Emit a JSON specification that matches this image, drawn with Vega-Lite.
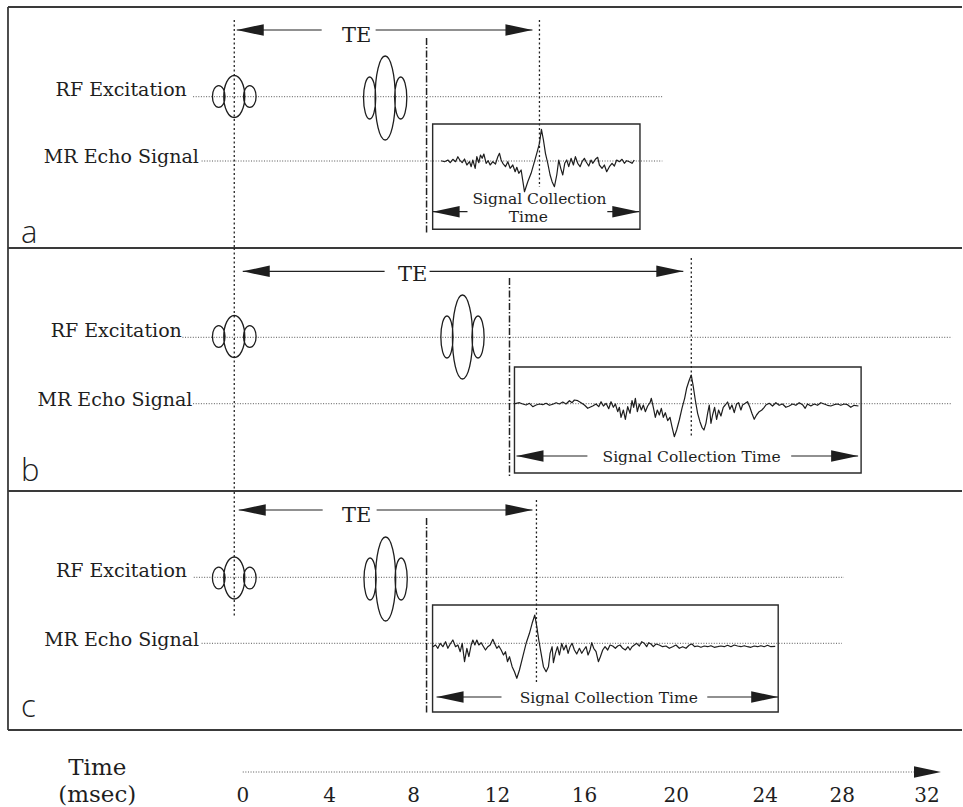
{
  "$schema": "https://vega.github.io/schema/vega-lite/v6.json",
  "width": 963,
  "height": 807,
  "autosize": {"type": "fit", "contains": "padding"},
  "padding": 0,
  "background": "#ffffff",
  "config": {"view": {"stroke": null}, "font": "DejaVu Serif"},
  "datasets": {
    "segs": [
      {"kind": "border", "x": -10.39, "x2": 33.417, "y": 7, "y2": 7},
      {"kind": "border", "x": -10.39, "x2": 33.417, "y": 248, "y2": 248},
      {"kind": "border", "x": -10.39, "x2": 33.417, "y": 491, "y2": 491},
      {"kind": "border", "x": -10.39, "x2": 33.417, "y": 730, "y2": 730},
      {"kind": "border", "x": -10.39, "x2": -10.39, "y": 7, "y2": 730},
      {"kind": "base", "x": -1.89, "x2": 19.656, "y": 96.7, "y2": 96.7},
      {"kind": "base", "x": -1.5, "x2": 19.656, "y": 161, "y2": 161},
      {"kind": "base", "x": -2.38, "x2": 32.96, "y": 337.3, "y2": 337.3},
      {"kind": "base", "x": -1.89, "x2": 32.96, "y": 403.7, "y2": 403.7},
      {"kind": "base", "x": -1.86, "x2": 28.0, "y": 577.3, "y2": 577.3},
      {"kind": "base", "x": -1.5, "x2": 27.9, "y": 643.3, "y2": 643.3},
      {"kind": "base", "x": 0.39, "x2": 31.5, "y": 772, "y2": 772},
      {"kind": "mark", "x": 0, "x2": 0, "y": 20, "y2": 248},
      {"kind": "mark", "x": 0, "x2": 0, "y": 248, "y2": 491},
      {"kind": "mark", "x": 0, "x2": 0, "y": 492, "y2": 617},
      {"kind": "mark", "x": 14.014, "x2": 14.014, "y": 20, "y2": 187},
      {"kind": "mark", "x": 20.986, "x2": 20.986, "y": 258, "y2": 438},
      {"kind": "mark", "x": 13.876, "x2": 13.876, "y": 500, "y2": 683},
      {"kind": "readout", "x": 8.83, "x2": 8.83, "y": 38, "y2": 233},
      {"kind": "readout", "x": 12.638, "x2": 12.638, "y": 278, "y2": 478},
      {"kind": "readout", "x": 8.83, "x2": 8.83, "y": 518, "y2": 713},
      {"kind": "arrow", "x": 0.115, "x2": 4.014, "y": 30, "y2": 30},
      {"kind": "arrow", "x": 6.491, "x2": 13.693, "y": 30, "y2": 30},
      {"kind": "arrow", "x": 0.39, "x2": 6.904, "y": 271.3, "y2": 271.3},
      {"kind": "arrow", "x": 8.968, "x2": 20.619, "y": 271.3, "y2": 271.3},
      {"kind": "arrow", "x": 0.206, "x2": 4.06, "y": 510, "y2": 510},
      {"kind": "arrow", "x": 6.537, "x2": 13.693, "y": 510, "y2": 510},
      {"kind": "arrow", "x": 9.11, "x2": 10.71, "y": 211.7, "y2": 211.7},
      {"kind": "arrow", "x": 17.13, "x2": 18.6, "y": 211.7, "y2": 211.7},
      {"kind": "arrow", "x": 12.959, "x2": 16.216, "y": 456, "y2": 456},
      {"kind": "arrow", "x": 25.573, "x2": 28.647, "y": 456, "y2": 456},
      {"kind": "arrow", "x": 9.289, "x2": 12.271, "y": 697, "y2": 697},
      {"kind": "arrow", "x": 21.72, "x2": 24.977, "y": 697, "y2": 697}
    ],
    "heads": [
      {"dir": "left", "x": 0.115, "y": 30},
      {"dir": "left", "x": 0.39, "y": 271.3},
      {"dir": "left", "x": 0.206, "y": 510},
      {"dir": "left", "x": 9.11, "y": 211.7},
      {"dir": "left", "x": 12.959, "y": 456},
      {"dir": "left", "x": 9.289, "y": 697},
      {"dir": "right", "x": 13.693, "y": 30},
      {"dir": "right", "x": 20.619, "y": 271.3},
      {"dir": "right", "x": 13.693, "y": 510},
      {"dir": "right", "x": 18.6, "y": 211.7},
      {"dir": "right", "x": 28.647, "y": 456},
      {"dir": "right", "x": 24.977, "y": 697},
      {"dir": "right", "x": 32.454, "y": 772}
    ],
    "boxes": [
      {"panel": "a", "x": 9.11, "x2": 18.63, "y": 124, "y2": 229.3},
      {"panel": "b", "x": 12.867, "x2": 28.784, "y": 367, "y2": 473},
      {"panel": "c", "x": 9.106, "x2": 24.977, "y": 605, "y2": 712}
    ],
    "pulses": [
      {"panel": "a", "type": "90", "x": 0, "y": 96.5},
      {"panel": "a", "type": "180", "x": 6.93, "y": 98},
      {"panel": "b", "type": "90", "x": 0, "y": 336.5},
      {"panel": "b", "type": "180", "x": 10.48, "y": 337},
      {"panel": "c", "type": "90", "x": 0, "y": 578},
      {"panel": "c", "type": "180", "x": 6.95, "y": 579}
    ],
    "texts": [
      {"kind": "label", "label": "RF Excitation", "x": -2.179, "y": 96.2},
      {"kind": "label", "label": "MR Echo Signal", "x": -1.628, "y": 162.5},
      {"kind": "label", "label": "RF Excitation", "x": -2.408, "y": 337.2},
      {"kind": "label", "label": "MR Echo Signal", "x": -1.92, "y": 406},
      {"kind": "label", "label": "RF Excitation", "x": -2.165, "y": 576.7},
      {"kind": "label", "label": "MR Echo Signal", "x": -1.615, "y": 645.5},
      {"kind": "te", "label": "TE", "x": 5.619, "y": 41.5},
      {"kind": "te", "label": "TE", "x": 8.188, "y": 281},
      {"kind": "te", "label": "TE", "x": 5.619, "y": 521.5},
      {"kind": "panel", "label": "a", "x": -9.794, "y": 243},
      {"kind": "panel", "label": "b", "x": -9.794, "y": 481},
      {"kind": "panel", "label": "c", "x": -9.794, "y": 717},
      {"kind": "sc", "label": "Signal Collection", "x": 14.014, "y": 204.3},
      {"kind": "sc", "label": "Time", "x": 13.5, "y": 222},
      {"kind": "sc", "label": "Signal Collection Time", "x": 21.0, "y": 461.7},
      {"kind": "sc", "label": "Signal Collection Time", "x": 17.2, "y": 702.7},
      {"kind": "tick", "label": "0", "x": 0.39, "y": 802},
      {"kind": "tick", "label": "4", "x": 4.381, "y": 802},
      {"kind": "tick", "label": "8", "x": 8.234, "y": 802},
      {"kind": "tick", "label": "12", "x": 12.087, "y": 802},
      {"kind": "tick", "label": "16", "x": 16.078, "y": 802},
      {"kind": "tick", "label": "20", "x": 20.298, "y": 802},
      {"kind": "tick", "label": "24", "x": 24.381, "y": 802},
      {"kind": "tick", "label": "28", "x": 27.913, "y": 802},
      {"kind": "tick", "label": "32", "x": 31.812, "y": 802},
      {"kind": "axtitle", "label": "Time", "x": -6.29, "y": 775},
      {"kind": "axtitle", "label": "(msec)", "x": -6.29, "y": 801.5}
    ],
    "signals": [
      {"panel": "a", "x": 9.503, "y": 160.7}, {"panel": "a", "x": 9.656, "y": 161.7}, {"panel": "a", "x": 9.809, "y": 160.0}, {"panel": "a", "x": 9.916, "y": 162.7},
      {"panel": "a", "x": 10.038, "y": 159.3}, {"panel": "a", "x": 10.16, "y": 161.7}, {"panel": "a", "x": 10.267, "y": 156.7}, {"panel": "a", "x": 10.374, "y": 160.7},
      {"panel": "a", "x": 10.466, "y": 162.7}, {"panel": "a", "x": 10.573, "y": 159.0}, {"panel": "a", "x": 10.68, "y": 165.0}, {"panel": "a", "x": 10.803, "y": 161.7},
      {"panel": "a", "x": 10.879, "y": 166.7}, {"panel": "a", "x": 10.955, "y": 160.0}, {"panel": "a", "x": 11.062, "y": 168.3}, {"panel": "a", "x": 11.139, "y": 156.7},
      {"panel": "a", "x": 11.231, "y": 162.7}, {"panel": "a", "x": 11.307, "y": 155.0}, {"panel": "a", "x": 11.384, "y": 158.3}, {"panel": "a", "x": 11.46, "y": 154.0},
      {"panel": "a", "x": 11.567, "y": 163.3}, {"panel": "a", "x": 11.659, "y": 160.7}, {"panel": "a", "x": 11.75, "y": 165.0}, {"panel": "a", "x": 11.873, "y": 161.7},
      {"panel": "a", "x": 11.995, "y": 164.0}, {"panel": "a", "x": 12.102, "y": 156.7}, {"panel": "a", "x": 12.179, "y": 153.3}, {"panel": "a", "x": 12.255, "y": 160.0},
      {"panel": "a", "x": 12.332, "y": 163.3}, {"panel": "a", "x": 12.454, "y": 166.7}, {"panel": "a", "x": 12.561, "y": 161.7}, {"panel": "a", "x": 12.668, "y": 168.3},
      {"panel": "a", "x": 12.79, "y": 165.0}, {"panel": "a", "x": 12.897, "y": 171.7}, {"panel": "a", "x": 12.974, "y": 167.3}, {"panel": "a", "x": 13.066, "y": 173.3},
      {"panel": "a", "x": 13.173, "y": 170.0}, {"panel": "a", "x": 13.326, "y": 191.7}, {"panel": "a", "x": 13.478, "y": 181.7}, {"panel": "a", "x": 13.631, "y": 173.3},
      {"panel": "a", "x": 13.784, "y": 161.7}, {"panel": "a", "x": 13.891, "y": 153.3}, {"panel": "a", "x": 14.013, "y": 143.3}, {"panel": "a", "x": 14.105, "y": 129.3},
      {"panel": "a", "x": 14.197, "y": 140.0}, {"panel": "a", "x": 14.289, "y": 153.3}, {"panel": "a", "x": 14.396, "y": 163.3}, {"panel": "a", "x": 14.503, "y": 175.0},
      {"panel": "a", "x": 14.595, "y": 181.7}, {"panel": "a", "x": 14.702, "y": 186.7}, {"panel": "a", "x": 14.809, "y": 175.0}, {"panel": "a", "x": 14.9, "y": 160.0},
      {"panel": "a", "x": 14.992, "y": 168.3}, {"panel": "a", "x": 15.084, "y": 175.0}, {"panel": "a", "x": 15.176, "y": 163.3}, {"panel": "a", "x": 15.267, "y": 160.0},
      {"panel": "a", "x": 15.359, "y": 166.7}, {"panel": "a", "x": 15.466, "y": 158.3}, {"panel": "a", "x": 15.573, "y": 165.0}, {"panel": "a", "x": 15.665, "y": 156.7},
      {"panel": "a", "x": 15.772, "y": 163.3}, {"panel": "a", "x": 15.879, "y": 166.7}, {"panel": "a", "x": 15.971, "y": 161.7}, {"panel": "a", "x": 16.078, "y": 158.3},
      {"panel": "a", "x": 16.154, "y": 161.7}, {"panel": "a", "x": 16.277, "y": 166.0}, {"panel": "a", "x": 16.384, "y": 160.0}, {"panel": "a", "x": 16.46, "y": 163.3},
      {"panel": "a", "x": 16.582, "y": 159.3}, {"panel": "a", "x": 16.689, "y": 157.3}, {"panel": "a", "x": 16.766, "y": 165.0}, {"panel": "a", "x": 16.888, "y": 168.3},
      {"panel": "a", "x": 16.995, "y": 165.0}, {"panel": "a", "x": 17.102, "y": 171.7}, {"panel": "a", "x": 17.225, "y": 166.7}, {"panel": "a", "x": 17.347, "y": 163.3},
      {"panel": "a", "x": 17.454, "y": 166.0}, {"panel": "a", "x": 17.561, "y": 160.0}, {"panel": "a", "x": 17.683, "y": 161.7}, {"panel": "a", "x": 17.806, "y": 159.3},
      {"panel": "a", "x": 17.913, "y": 163.3}, {"panel": "a", "x": 18.02, "y": 160.7}, {"panel": "a", "x": 18.142, "y": 161.7}, {"panel": "a", "x": 18.264, "y": 163.3},
      {"panel": "a", "x": 18.371, "y": 160.0},

      {"panel": "b", "x": 12.867, "y": 404.0}, {"panel": "b", "x": 12.944, "y": 403.3}, {"panel": "b", "x": 13.097, "y": 402.7}, {"panel": "b", "x": 13.25, "y": 404.0},
      {"panel": "b", "x": 13.402, "y": 405.0}, {"panel": "b", "x": 13.555, "y": 403.3}, {"panel": "b", "x": 13.708, "y": 406.7}, {"panel": "b", "x": 13.861, "y": 405.0},
      {"panel": "b", "x": 14.014, "y": 404.0}, {"panel": "b", "x": 14.167, "y": 404.7}, {"panel": "b", "x": 14.32, "y": 403.3}, {"panel": "b", "x": 14.473, "y": 405.3},
      {"panel": "b", "x": 14.626, "y": 404.3}, {"panel": "b", "x": 14.778, "y": 402.7}, {"panel": "b", "x": 14.931, "y": 404.0}, {"panel": "b", "x": 15.084, "y": 402.0},
      {"panel": "b", "x": 15.237, "y": 404.0}, {"panel": "b", "x": 15.39, "y": 400.7}, {"panel": "b", "x": 15.512, "y": 402.7}, {"panel": "b", "x": 15.619, "y": 400.0},
      {"panel": "b", "x": 15.772, "y": 400.7}, {"panel": "b", "x": 15.925, "y": 402.7}, {"panel": "b", "x": 16.078, "y": 405.0}, {"panel": "b", "x": 16.231, "y": 408.3},
      {"panel": "b", "x": 16.46, "y": 406.0}, {"panel": "b", "x": 16.613, "y": 404.0}, {"panel": "b", "x": 16.736, "y": 406.7}, {"panel": "b", "x": 16.843, "y": 401.7},
      {"panel": "b", "x": 16.95, "y": 406.0}, {"panel": "b", "x": 17.072, "y": 403.3}, {"panel": "b", "x": 17.195, "y": 408.7}, {"panel": "b", "x": 17.301, "y": 401.7},
      {"panel": "b", "x": 17.408, "y": 407.3}, {"panel": "b", "x": 17.5, "y": 404.0}, {"panel": "b", "x": 17.607, "y": 411.7}, {"panel": "b", "x": 17.684, "y": 407.3},
      {"panel": "b", "x": 17.76, "y": 417.3}, {"panel": "b", "x": 17.867, "y": 410.0}, {"panel": "b", "x": 17.959, "y": 419.3}, {"panel": "b", "x": 18.066, "y": 406.7},
      {"panel": "b", "x": 18.173, "y": 413.3}, {"panel": "b", "x": 18.265, "y": 400.7}, {"panel": "b", "x": 18.341, "y": 407.3}, {"panel": "b", "x": 18.418, "y": 398.3},
      {"panel": "b", "x": 18.51, "y": 411.7}, {"panel": "b", "x": 18.601, "y": 404.0}, {"panel": "b", "x": 18.693, "y": 410.0}, {"panel": "b", "x": 18.785, "y": 405.0},
      {"panel": "b", "x": 18.876, "y": 411.7}, {"panel": "b", "x": 18.983, "y": 406.0}, {"panel": "b", "x": 19.09, "y": 402.7}, {"panel": "b", "x": 19.152, "y": 398.3},
      {"panel": "b", "x": 19.243, "y": 407.3}, {"panel": "b", "x": 19.335, "y": 417.3}, {"panel": "b", "x": 19.427, "y": 410.0}, {"panel": "b", "x": 19.519, "y": 415.0},
      {"panel": "b", "x": 19.61, "y": 408.3}, {"panel": "b", "x": 19.702, "y": 417.3}, {"panel": "b", "x": 19.794, "y": 412.7}, {"panel": "b", "x": 19.901, "y": 420.7},
      {"panel": "b", "x": 20.008, "y": 417.3}, {"panel": "b", "x": 20.099, "y": 426.7}, {"panel": "b", "x": 20.207, "y": 436.7}, {"panel": "b", "x": 20.314, "y": 430.0},
      {"panel": "b", "x": 20.436, "y": 420.0}, {"panel": "b", "x": 20.558, "y": 408.3}, {"panel": "b", "x": 20.681, "y": 398.3}, {"panel": "b", "x": 20.772, "y": 388.3},
      {"panel": "b", "x": 20.895, "y": 380.0}, {"panel": "b", "x": 20.986, "y": 375.0}, {"panel": "b", "x": 21.078, "y": 386.7}, {"panel": "b", "x": 21.17, "y": 400.0},
      {"panel": "b", "x": 21.277, "y": 413.3}, {"panel": "b", "x": 21.384, "y": 421.7}, {"panel": "b", "x": 21.476, "y": 427.3}, {"panel": "b", "x": 21.567, "y": 430.0},
      {"panel": "b", "x": 21.659, "y": 423.3}, {"panel": "b", "x": 21.736, "y": 413.3}, {"panel": "b", "x": 21.812, "y": 405.0}, {"panel": "b", "x": 21.889, "y": 423.3},
      {"panel": "b", "x": 21.965, "y": 415.0}, {"panel": "b", "x": 22.057, "y": 407.3}, {"panel": "b", "x": 22.149, "y": 419.3}, {"panel": "b", "x": 22.24, "y": 410.0},
      {"panel": "b", "x": 22.347, "y": 416.0}, {"panel": "b", "x": 22.454, "y": 407.3}, {"panel": "b", "x": 22.546, "y": 405.0}, {"panel": "b", "x": 22.653, "y": 402.0},
      {"panel": "b", "x": 22.76, "y": 409.3}, {"panel": "b", "x": 22.852, "y": 405.0}, {"panel": "b", "x": 22.959, "y": 412.7}, {"panel": "b", "x": 23.066, "y": 404.0},
      {"panel": "b", "x": 23.157, "y": 402.7}, {"panel": "b", "x": 23.265, "y": 410.0}, {"panel": "b", "x": 23.341, "y": 405.0}, {"panel": "b", "x": 23.464, "y": 403.3},
      {"panel": "b", "x": 23.571, "y": 401.7}, {"panel": "b", "x": 23.677, "y": 407.3}, {"panel": "b", "x": 23.769, "y": 413.3}, {"panel": "b", "x": 23.876, "y": 419.3},
      {"panel": "b", "x": 23.983, "y": 415.0}, {"panel": "b", "x": 24.105, "y": 411.7}, {"panel": "b", "x": 24.228, "y": 410.0}, {"panel": "b", "x": 24.335, "y": 407.3},
      {"panel": "b", "x": 24.411, "y": 405.0}, {"panel": "b", "x": 24.564, "y": 403.3}, {"panel": "b", "x": 24.717, "y": 406.0}, {"panel": "b", "x": 24.87, "y": 402.7},
      {"panel": "b", "x": 25.023, "y": 405.3}, {"panel": "b", "x": 25.176, "y": 404.0}, {"panel": "b", "x": 25.329, "y": 407.3}, {"panel": "b", "x": 25.482, "y": 406.0},
      {"panel": "b", "x": 25.635, "y": 404.0}, {"panel": "b", "x": 25.788, "y": 405.3}, {"panel": "b", "x": 25.941, "y": 402.7}, {"panel": "b", "x": 26.094, "y": 404.7},
      {"panel": "b", "x": 26.216, "y": 408.3}, {"panel": "b", "x": 26.323, "y": 404.0}, {"panel": "b", "x": 26.476, "y": 406.0}, {"panel": "b", "x": 26.629, "y": 404.0},
      {"panel": "b", "x": 26.782, "y": 405.3}, {"panel": "b", "x": 26.934, "y": 402.7}, {"panel": "b", "x": 27.087, "y": 404.0}, {"panel": "b", "x": 27.24, "y": 405.3},
      {"panel": "b", "x": 27.393, "y": 406.0}, {"panel": "b", "x": 27.546, "y": 404.7}, {"panel": "b", "x": 27.699, "y": 404.0}, {"panel": "b", "x": 27.852, "y": 405.3},
      {"panel": "b", "x": 28.005, "y": 404.0}, {"panel": "b", "x": 28.158, "y": 404.7}, {"panel": "b", "x": 28.31, "y": 407.3}, {"panel": "b", "x": 28.463, "y": 405.3},
      {"panel": "b", "x": 28.662, "y": 406.0},

      {"panel": "c", "x": 9.121, "y": 646.7}, {"panel": "c", "x": 9.243, "y": 645.0}, {"panel": "c", "x": 9.35, "y": 648.3}, {"panel": "c", "x": 9.457, "y": 643.3},
      {"panel": "c", "x": 9.58, "y": 646.7}, {"panel": "c", "x": 9.702, "y": 641.7}, {"panel": "c", "x": 9.809, "y": 648.3}, {"panel": "c", "x": 9.916, "y": 644.0},
      {"panel": "c", "x": 10.038, "y": 640.0}, {"panel": "c", "x": 10.161, "y": 646.7}, {"panel": "c", "x": 10.268, "y": 645.0}, {"panel": "c", "x": 10.375, "y": 651.7},
      {"panel": "c", "x": 10.467, "y": 643.3}, {"panel": "c", "x": 10.574, "y": 661.7}, {"panel": "c", "x": 10.681, "y": 648.3}, {"panel": "c", "x": 10.772, "y": 656.7},
      {"panel": "c", "x": 10.879, "y": 645.0}, {"panel": "c", "x": 10.956, "y": 640.0}, {"panel": "c", "x": 11.048, "y": 645.0}, {"panel": "c", "x": 11.139, "y": 640.0},
      {"panel": "c", "x": 11.231, "y": 645.0}, {"panel": "c", "x": 11.338, "y": 642.7}, {"panel": "c", "x": 11.445, "y": 646.7}, {"panel": "c", "x": 11.537, "y": 650.0},
      {"panel": "c", "x": 11.644, "y": 646.7}, {"panel": "c", "x": 11.751, "y": 645.0}, {"panel": "c", "x": 11.873, "y": 639.3}, {"panel": "c", "x": 11.965, "y": 644.0},
      {"panel": "c", "x": 12.057, "y": 648.3}, {"panel": "c", "x": 12.149, "y": 646.0}, {"panel": "c", "x": 12.256, "y": 650.0}, {"panel": "c", "x": 12.363, "y": 655.0},
      {"panel": "c", "x": 12.454, "y": 651.7}, {"panel": "c", "x": 12.546, "y": 661.7}, {"panel": "c", "x": 12.638, "y": 656.7}, {"panel": "c", "x": 12.76, "y": 666.7},
      {"panel": "c", "x": 12.867, "y": 671.7}, {"panel": "c", "x": 12.974, "y": 678.3}, {"panel": "c", "x": 13.096, "y": 670.0}, {"panel": "c", "x": 13.249, "y": 656.7},
      {"panel": "c", "x": 13.402, "y": 643.3}, {"panel": "c", "x": 13.555, "y": 633.3}, {"panel": "c", "x": 13.678, "y": 623.3}, {"panel": "c", "x": 13.8, "y": 615.0},
      {"panel": "c", "x": 13.892, "y": 626.7}, {"panel": "c", "x": 13.983, "y": 640.0}, {"panel": "c", "x": 14.09, "y": 653.3}, {"panel": "c", "x": 14.197, "y": 666.7},
      {"panel": "c", "x": 14.32, "y": 671.7}, {"panel": "c", "x": 14.427, "y": 666.7}, {"panel": "c", "x": 14.503, "y": 653.3}, {"panel": "c", "x": 14.595, "y": 646.7},
      {"panel": "c", "x": 14.656, "y": 662.7}, {"panel": "c", "x": 14.748, "y": 653.3}, {"panel": "c", "x": 14.84, "y": 646.7}, {"panel": "c", "x": 14.931, "y": 655.0},
      {"panel": "c", "x": 15.038, "y": 643.3}, {"panel": "c", "x": 15.13, "y": 650.0}, {"panel": "c", "x": 15.237, "y": 645.0}, {"panel": "c", "x": 15.329, "y": 653.3},
      {"panel": "c", "x": 15.421, "y": 646.7}, {"panel": "c", "x": 15.512, "y": 643.3}, {"panel": "c", "x": 15.619, "y": 650.0}, {"panel": "c", "x": 15.726, "y": 654.0},
      {"panel": "c", "x": 15.849, "y": 648.3}, {"panel": "c", "x": 15.956, "y": 653.3}, {"panel": "c", "x": 16.048, "y": 650.0}, {"panel": "c", "x": 16.155, "y": 646.7},
      {"panel": "c", "x": 16.246, "y": 655.0}, {"panel": "c", "x": 16.338, "y": 650.0}, {"panel": "c", "x": 16.415, "y": 642.7}, {"panel": "c", "x": 16.506, "y": 648.3},
      {"panel": "c", "x": 16.613, "y": 651.7}, {"panel": "c", "x": 16.72, "y": 661.7}, {"panel": "c", "x": 16.812, "y": 656.7}, {"panel": "c", "x": 16.919, "y": 650.0},
      {"panel": "c", "x": 17.026, "y": 646.7}, {"panel": "c", "x": 17.148, "y": 650.0}, {"panel": "c", "x": 17.256, "y": 645.0}, {"panel": "c", "x": 17.378, "y": 646.0},
      {"panel": "c", "x": 17.5, "y": 648.3}, {"panel": "c", "x": 17.607, "y": 646.0}, {"panel": "c", "x": 17.714, "y": 645.0}, {"panel": "c", "x": 17.837, "y": 648.3},
      {"panel": "c", "x": 17.959, "y": 650.0}, {"panel": "c", "x": 18.081, "y": 646.7}, {"panel": "c", "x": 18.173, "y": 650.0}, {"panel": "c", "x": 18.265, "y": 646.7},
      {"panel": "c", "x": 18.372, "y": 645.0}, {"panel": "c", "x": 18.479, "y": 643.3}, {"panel": "c", "x": 18.601, "y": 646.0}, {"panel": "c", "x": 18.708, "y": 641.7},
      {"panel": "c", "x": 18.83, "y": 643.3}, {"panel": "c", "x": 18.937, "y": 646.7}, {"panel": "c", "x": 19.029, "y": 642.7}, {"panel": "c", "x": 19.136, "y": 644.0},
      {"panel": "c", "x": 19.243, "y": 646.7}, {"panel": "c", "x": 19.366, "y": 644.0}, {"panel": "c", "x": 19.518, "y": 645.0}, {"panel": "c", "x": 19.671, "y": 646.7},
      {"panel": "c", "x": 19.824, "y": 646.0}, {"panel": "c", "x": 19.977, "y": 648.3}, {"panel": "c", "x": 20.13, "y": 646.7}, {"panel": "c", "x": 20.283, "y": 645.0},
      {"panel": "c", "x": 20.436, "y": 648.3}, {"panel": "c", "x": 20.589, "y": 646.7}, {"panel": "c", "x": 20.742, "y": 648.3}, {"panel": "c", "x": 20.895, "y": 645.0},
      {"panel": "c", "x": 21.017, "y": 644.0}, {"panel": "c", "x": 21.139, "y": 646.7}, {"panel": "c", "x": 21.277, "y": 646.0}, {"panel": "c", "x": 21.43, "y": 647.3},
      {"panel": "c", "x": 21.583, "y": 646.0}, {"panel": "c", "x": 21.736, "y": 646.7}, {"panel": "c", "x": 21.889, "y": 645.7}, {"panel": "c", "x": 22.041, "y": 647.3},
      {"panel": "c", "x": 22.194, "y": 646.7}, {"panel": "c", "x": 22.347, "y": 646.0}, {"panel": "c", "x": 22.5, "y": 646.7}, {"panel": "c", "x": 22.653, "y": 645.3},
      {"panel": "c", "x": 22.806, "y": 646.7}, {"panel": "c", "x": 22.959, "y": 645.0}, {"panel": "c", "x": 23.112, "y": 646.0}, {"panel": "c", "x": 23.265, "y": 646.7},
      {"panel": "c", "x": 23.417, "y": 645.7}, {"panel": "c", "x": 23.57, "y": 646.7}, {"panel": "c", "x": 23.723, "y": 647.3}, {"panel": "c", "x": 23.876, "y": 646.0},
      {"panel": "c", "x": 24.029, "y": 646.7}, {"panel": "c", "x": 24.182, "y": 645.7}, {"panel": "c", "x": 24.335, "y": 646.7}, {"panel": "c", "x": 24.488, "y": 645.3},
      {"panel": "c", "x": 24.641, "y": 646.7}, {"panel": "c", "x": 24.84, "y": 646.3}
    ]
  },
  "encoding": {
    "x": {"field": "x", "type": "quantitative", "axis": null, "scale": {"domain": [-10.757, 33.417], "nice": false, "zero": false}},
    "y": {"field": "y", "type": "quantitative", "axis": null, "scale": {"domain": [0, 807], "reverse": true, "nice": false, "zero": false}}
  },
  "layer": [
    {
      "data": {"name": "segs"},
      "transform": [{"filter": "datum.kind === 'border'"}],
      "mark": {"type": "rule", "stroke": "#3a3a3a", "strokeWidth": 1.8},
      "encoding": {"x2": {"field": "x2"}, "y2": {"field": "y2"}}
    },
    {
      "data": {"name": "segs"},
      "transform": [{"filter": "datum.kind === 'base'"}],
      "mark": {"type": "rule", "stroke": "#555555", "strokeWidth": 1, "strokeDash": [1, 1.6]},
      "encoding": {"x2": {"field": "x2"}, "y2": {"field": "y2"}}
    },
    {
      "data": {"name": "segs"},
      "transform": [{"filter": "datum.kind === 'mark'"}],
      "mark": {"type": "rule", "stroke": "#222222", "strokeWidth": 1.3, "strokeDash": [2, 2.5]},
      "encoding": {"x2": {"field": "x2"}, "y2": {"field": "y2"}}
    },
    {
      "data": {"name": "segs"},
      "transform": [{"filter": "datum.kind === 'readout'"}],
      "mark": {"type": "rule", "stroke": "#222222", "strokeWidth": 1.5, "strokeDash": [7, 2, 1.5, 2]},
      "encoding": {"x2": {"field": "x2"}, "y2": {"field": "y2"}}
    },
    {
      "data": {"name": "segs"},
      "transform": [{"filter": "datum.kind === 'arrow'"}],
      "mark": {"type": "rule", "stroke": "#222222", "strokeWidth": 1.2},
      "encoding": {"x2": {"field": "x2"}, "y2": {"field": "y2"}}
    },
    {
      "data": {"name": "boxes"},
      "mark": {"type": "rect", "fill": null, "fillOpacity": 0, "stroke": "#2a2a2a", "strokeWidth": 1.4},
      "encoding": {"x2": {"field": "x2"}, "y2": {"field": "y2"}}
    },
    {
      "data": {"name": "signals"},
      "mark": {"type": "line", "stroke": "#1e1e1e", "strokeWidth": 1.2, "strokeJoin": "round"},
      "encoding": {"detail": {"field": "panel"}}
    },
    {
      "data": {"name": "pulses"},
      "transform": [{"filter": "datum.type === '90'"}],
      "mark": {"type": "point", "filled": false, "opacity": 1, "stroke": "#1e1e1e", "strokeWidth": 1.3, "size": 1764,
        "shape": "M0,-1C0.276,-1,0.5,-0.552,0.5,0C0.5,0.552,0.276,1,0,1C-0.276,1,-0.5,0.552,-0.5,0C-0.5,-0.552,-0.276,-1,0,-1ZM-0.74,-0.52C-0.574,-0.52,-0.44,-0.287,-0.44,0C-0.44,0.287,-0.574,0.52,-0.74,0.52C-0.906,0.52,-1.04,0.287,-1.04,0C-1.04,-0.287,-0.906,-0.52,-0.74,-0.52ZM0.74,-0.52C0.906,-0.52,1.04,-0.287,1.04,0C1.04,0.287,0.906,0.52,0.74,0.52C0.574,0.52,0.44,0.287,0.44,0C0.44,-0.287,0.574,-0.52,0.74,-0.52Z"}
    },
    {
      "data": {"name": "pulses"},
      "transform": [{"filter": "datum.type === '180'"}],
      "mark": {"type": "point", "filled": false, "opacity": 1, "stroke": "#1e1e1e", "strokeWidth": 1.3, "size": 7056,
        "shape": "M0,-1C0.133,-1,0.24,-0.552,0.24,0C0.24,0.552,0.133,1,0,1C-0.133,1,-0.24,0.552,-0.24,0C-0.24,-0.552,-0.133,-1,0,-1ZM-0.37,-0.5C-0.29,-0.5,-0.225,-0.276,-0.225,0C-0.225,0.276,-0.29,0.5,-0.37,0.5C-0.45,0.5,-0.515,0.276,-0.515,0C-0.515,-0.276,-0.45,-0.5,-0.37,-0.5ZM0.37,-0.5C0.45,-0.5,0.515,-0.276,0.515,0C0.515,0.276,0.45,0.5,0.37,0.5C0.29,0.5,0.225,0.276,0.225,0C0.225,-0.276,0.29,-0.5,0.37,-0.5Z"}
    },
    {
      "data": {"name": "heads"},
      "transform": [{"filter": "datum.dir === 'left'"}],
      "mark": {"type": "point", "filled": true, "opacity": 1, "fill": "#1e1e1e", "strokeWidth": 0, "size": 729, "shape": "M0,0L2,-0.43L2,0.43Z"}
    },
    {
      "data": {"name": "heads"},
      "transform": [{"filter": "datum.dir === 'right'"}],
      "mark": {"type": "point", "filled": true, "opacity": 1, "fill": "#1e1e1e", "strokeWidth": 0, "size": 729, "shape": "M0,0L-2,-0.43L-2,0.43Z"}
    },
    {
      "data": {"name": "texts"},
      "transform": [{"filter": "datum.kind === 'label'"}],
      "mark": {"type": "text", "align": "right", "baseline": "alphabetic", "font": "DejaVu Serif", "fontSize": 19, "fill": "#1e1e1e"},
      "encoding": {"text": {"field": "label"}}
    },
    {
      "data": {"name": "texts"},
      "transform": [{"filter": "datum.kind === 'te'"}],
      "mark": {"type": "text", "align": "center", "baseline": "alphabetic", "font": "DejaVu Serif", "fontSize": 21, "fill": "#1e1e1e"},
      "encoding": {"text": {"field": "label"}}
    },
    {
      "data": {"name": "texts"},
      "transform": [{"filter": "datum.kind === 'panel'"}],
      "mark": {"type": "text", "align": "left", "baseline": "alphabetic", "font": "Open Sans", "fontWeight": 300, "fontSize": 31, "fill": "#1e1e1e"},
      "encoding": {"text": {"field": "label"}}
    },
    {
      "data": {"name": "texts"},
      "transform": [{"filter": "datum.kind === 'sc'"}],
      "mark": {"type": "text", "align": "center", "baseline": "alphabetic", "font": "DejaVu Serif", "fontSize": 15.5, "fill": "#1e1e1e"},
      "encoding": {"text": {"field": "label"}}
    },
    {
      "data": {"name": "texts"},
      "transform": [{"filter": "datum.kind === 'tick'"}],
      "mark": {"type": "text", "align": "center", "baseline": "alphabetic", "font": "DejaVu Serif", "fontSize": 20, "fill": "#1e1e1e"},
      "encoding": {"text": {"field": "label"}}
    },
    {
      "data": {"name": "texts"},
      "transform": [{"filter": "datum.kind === 'axtitle'"}],
      "mark": {"type": "text", "align": "center", "baseline": "alphabetic", "font": "DejaVu Serif", "fontSize": 23, "fill": "#1e1e1e"},
      "encoding": {"text": {"field": "label"}}
    }
  ]
}
